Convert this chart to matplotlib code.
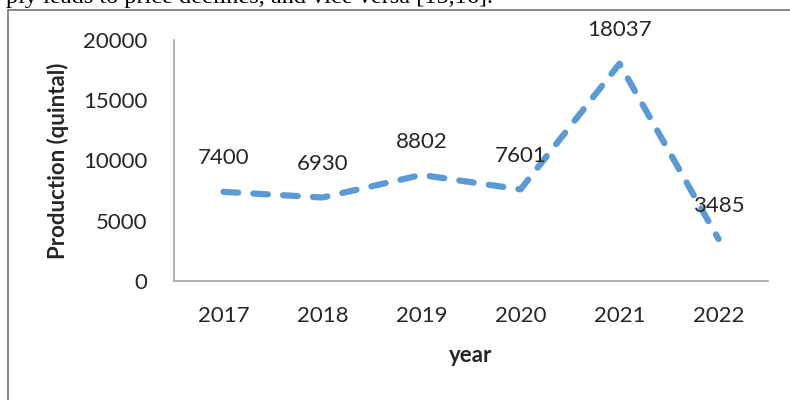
import matplotlib.pyplot as plt
from matplotlib.lines import Line2D

# chart data
years = ['2017', '2018', '2019', '2020', '2021', '2022']
production = [7400, 6930, 8802, 7601, 18037, 3485]
yticks = [0, 5000, 10000, 15000, 20000]

plt.rcParams['font.family'] = ['Lato', 'DejaVu Sans']
plt.rcParams['lines.scale_dashes'] = False

fig = plt.figure(figsize=(7.9, 4.0), dpi=100)
ax = fig.add_axes([174 / 790, 119 / 400, 594 / 790, 241 / 400])

x = list(range(len(years)))
ax.plot(x, production, color='#5B9BD5', linewidth=4.5,
        linestyle=(0, (10.5, 11)), dash_capstyle='round',
        solid_joinstyle='round')

# data labels above points
for xi, v in zip(x, production):
    ax.annotate(str(v), (xi, v), xytext=(0, 24), textcoords='offset points',
                ha='center', va='center', fontsize=16, color='#262626')

ax.set_xlim(-0.5, len(years) - 0.5)
ax.set_ylim(0, 20000)
ax.set_xticks(x)
ax.set_xticklabels(years)
ax.set_yticks(yticks)
ax.set_yticklabels([str(t) for t in yticks])
ax.tick_params(length=0, labelsize=16, colors='#262626')
ax.tick_params(axis='x', pad=18)
ax.tick_params(axis='y', pad=19)

for s in ['top', 'right']:
    ax.spines[s].set_visible(False)
for s in ['left', 'bottom']:
    ax.spines[s].set_color('#A6A6A6')
    ax.spines[s].set_linewidth(1.2)

ax.set_xlabel('year', fontsize=16, fontweight='bold', color='#262626', labelpad=14)
ax.set_ylabel('Production (quintal)', fontsize=16, fontweight='bold', color='#262626', labelpad=10)

# surrounding frame of the figure box in the document
fig.add_artist(Line2D([8 / 790, 8 / 790], [0, 1 - 10 / 400], transform=fig.transFigure,
                      color='#7F7F7F', linewidth=1.3))
fig.add_artist(Line2D([8 / 790, 1], [1 - 10 / 400, 1 - 10 / 400], transform=fig.transFigure,
                      color='#7F7F7F', linewidth=1.3))

# clipped line of body text above the figure
fig.text(6 / 790, 1 - 3 / 400, 'ply leads to price declines, and vice versa [15,16].',
         family=['Liberation Serif', 'DejaVu Serif'], fontsize=17.5,
         ha='left', va='baseline', color='black')

fig.savefig('out.png', dpi=100)
